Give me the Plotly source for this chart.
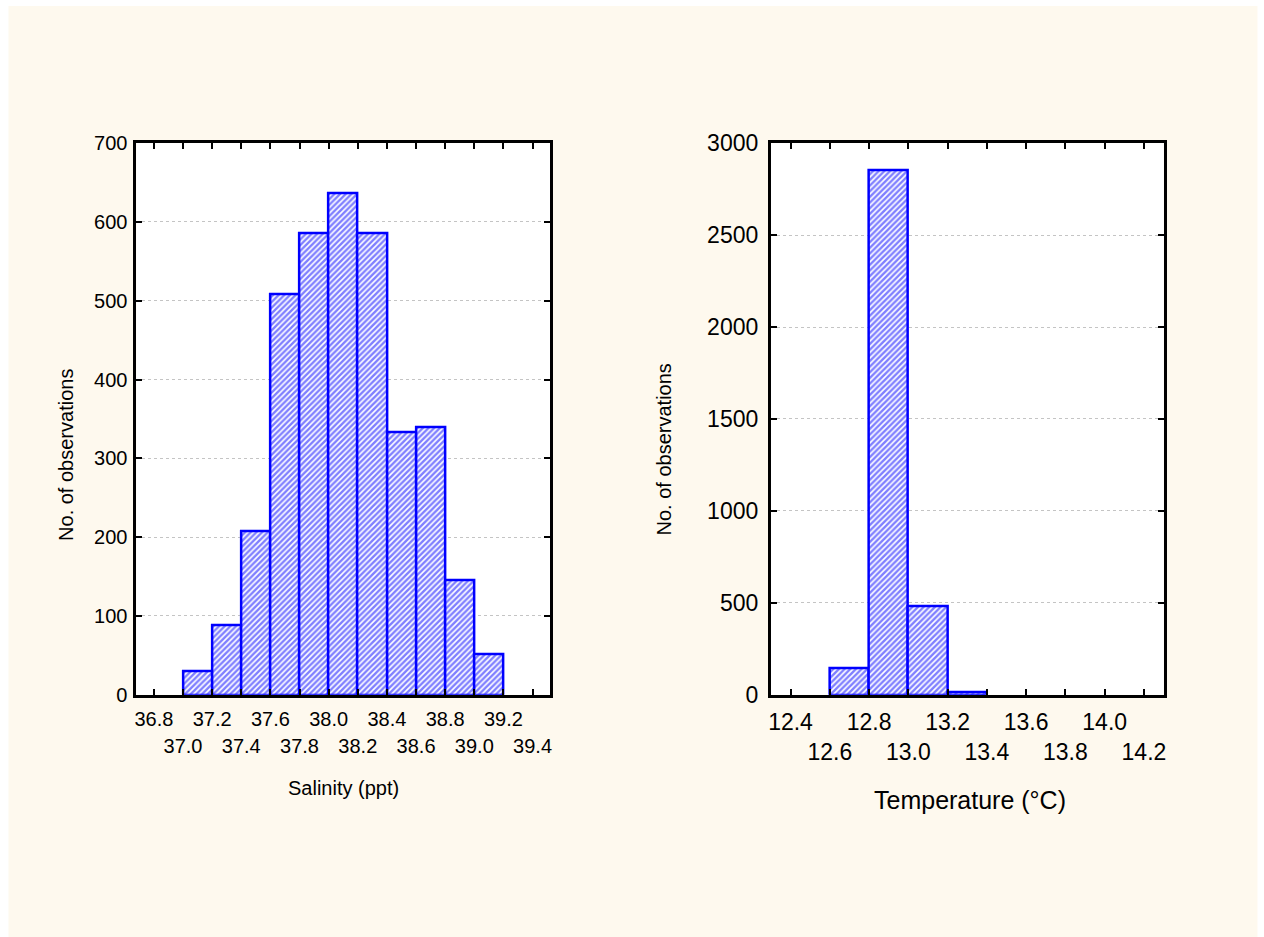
import plotly.graph_objects as go

W, H = 1264, 937

# ---------------- data ----------------
sal_bin_left = [37.0, 37.2, 37.4, 37.6, 37.8, 38.0, 38.2, 38.4, 38.6, 38.8, 39.0]
sal_counts = [30, 88, 207, 508, 586, 636, 586, 333, 339, 145, 51]
sal_ticks = [36.8, 37.0, 37.2, 37.4, 37.6, 37.8, 38.0, 38.2, 38.4, 38.6, 38.8, 39.0, 39.2, 39.4]
sal_yticks = [0, 100, 200, 300, 400, 500, 600, 700]

temp_bin_left = [12.6, 12.8, 13.0, 13.2]
temp_counts = [145, 2855, 483, 15]
temp_ticks = [12.4, 12.6, 12.8, 13.0, 13.2, 13.4, 13.6, 13.8, 14.0, 14.2]
temp_yticks = [0, 500, 1000, 1500, 2000, 2500, 3000]

bin_width = 0.2
sal_xlabel = "Salinity (ppt)"
temp_xlabel = "Temperature (°C)"
ylabel = "No. of observations"

# ---------------- style ----------------
FONT = "Liberation Sans, Arial, sans-serif"
BLUE = "#0000FF"
CREAM = "#FEF9EE"

# map target picture pixels to paper fractions (the paper area shows
# at x 2.5..1261, y 13..923 of the picture)
PX0, PXW = 2.5, 1259.0
PY0, PYH = 13.0, 910.0


def px_x(p):
    return (p - PX0) / PXW


def px_y(p):
    return 1 - (p - PY0) / PYH


L_dom = [px_x(136), px_x(550)]
R_dom = [px_x(771), px_x(1164)]
Y_dom = [px_y(694), px_y(143)]

fig = go.Figure()

bar_style = dict(
    marker=dict(
        color="white",
        line=dict(color=BLUE, width=2.5),
        pattern=dict(shape="/", fgcolor=BLUE, bgcolor="white", size=4, solidity=0.6),
    ),
    width=bin_width,
    showlegend=False,
    hoverinfo="x+y",
)

fig.add_trace(go.Bar(x=[b + bin_width / 2 for b in sal_bin_left], y=sal_counts,
                     xaxis="x", yaxis="y", **bar_style))
fig.add_trace(go.Bar(x=[b + bin_width / 2 for b in temp_bin_left], y=temp_counts,
                     xaxis="x2", yaxis="y2", **bar_style))
# empty helpers so the overlay (second-row label) axes get drawn
fig.add_trace(go.Scatter(x=[], y=[], xaxis="x3", yaxis="y", showlegend=False, hoverinfo="skip"))
fig.add_trace(go.Scatter(x=[], y=[], xaxis="x4", yaxis="y2", showlegend=False, hoverinfo="skip"))


def fmt(v):
    return f"{v:.1f}"


axis_common = dict(
    showline=True, linecolor="black", linewidth=3, mirror="ticks",
    ticks="inside", ticklen=6, tickwidth=2, tickcolor="black",
    zeroline=False,
)

sal_range = [36.68, 39.52]
temp_range = [12.3, 14.3]

fig.update_layout(
    width=W, height=H,
    margin=dict(l=0, r=0, t=0, b=0),
    paper_bgcolor=CREAM,
    plot_bgcolor="white",
    font=dict(family=FONT, color="black"),
    bargap=0,
    xaxis=dict(
        domain=L_dom, anchor="y", range=sal_range, showgrid=False,
        tickvals=sal_ticks,
        ticktext=[fmt(v) if i % 2 == 0 else "" for i, v in enumerate(sal_ticks)],
        tickfont=dict(size=20), ticklabelstandoff=4,
        **axis_common,
    ),
    xaxis3=dict(
        domain=L_dom, anchor="y", overlaying="x", side="bottom", range=sal_range,
        showgrid=False, showline=False, ticks="", zeroline=False,
        tickvals=[v for i, v in enumerate(sal_ticks) if i % 2 == 1],
        ticktext=[fmt(v) for i, v in enumerate(sal_ticks) if i % 2 == 1],
        tickfont=dict(size=20), ticklabelstandoff=37,
    ),
    yaxis=dict(
        domain=Y_dom, anchor="x", range=[0, 700], tickvals=sal_yticks,
        showgrid=True, gridcolor="#C4C4C4", griddash="3px,3px", gridwidth=1,
        tickfont=dict(size=20), ticklabelstandoff=2,
        **axis_common,
    ),
    xaxis2=dict(
        domain=R_dom, anchor="y2", range=temp_range, showgrid=False,
        tickvals=temp_ticks,
        ticktext=[fmt(v) if i % 2 == 0 else "" for i, v in enumerate(temp_ticks)],
        tickfont=dict(size=23), ticklabelstandoff=5,
        **axis_common,
    ),
    xaxis4=dict(
        domain=R_dom, anchor="y2", overlaying="x2", side="bottom", range=temp_range,
        showgrid=False, showline=False, ticks="", zeroline=False,
        tickvals=[v for i, v in enumerate(temp_ticks) if i % 2 == 1],
        ticktext=[fmt(v) for i, v in enumerate(temp_ticks) if i % 2 == 1],
        tickfont=dict(size=23), ticklabelstandoff=41,
    ),
    yaxis2=dict(
        domain=Y_dom, anchor="x2", range=[0, 3000], tickvals=temp_yticks,
        showgrid=True, gridcolor="#C4C4C4", griddash="3px,3px", gridwidth=1,
        tickfont=dict(size=23), ticklabelstandoff=5,
        **axis_common,
    ),
    shapes=[
        dict(type="rect", xref="paper", yref="paper", layer="below",
             x0=px_x(-10), x1=px_x(8), y0=px_y(950), y1=px_y(-10),
             fillcolor="white", line=dict(width=0)),
        dict(type="rect", xref="paper", yref="paper", layer="below",
             x0=px_x(1258), x1=px_x(1275), y0=px_y(950), y1=px_y(-10),
             fillcolor="white", line=dict(width=0)),
        dict(type="rect", xref="paper", yref="paper", layer="below",
             x0=px_x(-10), x1=px_x(1275), y0=px_y(6), y1=px_y(-10),
             fillcolor="white", line=dict(width=0)),
    ],
    annotations=[
        dict(text=sal_xlabel, xref="paper", yref="paper", x=px_x(343), y=px_y(787),
             showarrow=False, font=dict(size=20), xanchor="center", yanchor="middle"),
        dict(text=temp_xlabel, xref="paper", yref="paper", x=px_x(970), y=px_y(799),
             showarrow=False, font=dict(size=25), xanchor="center", yanchor="middle"),
        dict(text=ylabel, xref="paper", yref="paper", x=px_x(66), y=px_y(454),
             showarrow=False, font=dict(size=20), textangle=-90,
             xanchor="center", yanchor="middle"),
        dict(text=ylabel, xref="paper", yref="paper", x=px_x(665), y=px_y(449),
             showarrow=False, font=dict(size=20), textangle=-90,
             xanchor="center", yanchor="middle"),
    ],
)

fig.write_html("out.html")
